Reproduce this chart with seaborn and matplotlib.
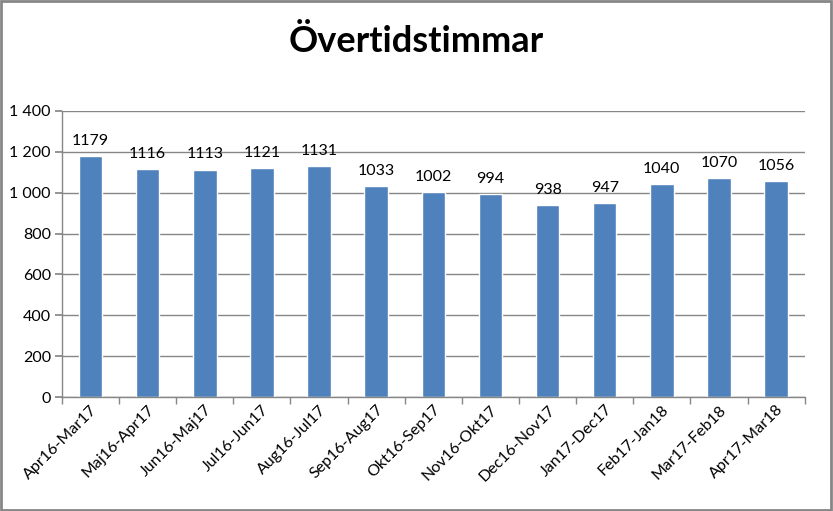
import matplotlib
matplotlib.use("Agg")
import matplotlib.pyplot as plt
import seaborn as sns
import pandas as pd
from matplotlib.ticker import FuncFormatter, FixedLocator
from matplotlib.patches import Rectangle

categories = ["Apr16-Mar17", "Maj16-Apr17", "Jun16-Maj17", "Jul16-Jun17", "Aug16-Jul17",
              "Sep16-Aug17", "Okt16-Sep17", "Nov16-Okt17", "Dec16-Nov17", "Jan17-Dec17",
              "Feb17-Jan18", "Mar17-Feb18", "Apr17-Mar18"]
values = [1179, 1116, 1113, 1121, 1131, 1033, 1002, 994, 938, 947, 1040, 1070, 1056]
title = "Övertidstimmar"

sns.set_theme(style="white")
plt.rcParams["font.family"] = ["Lato", "DejaVu Sans"]
plt.rcParams["text.color"] = "black"
plt.rcParams["xtick.color"] = "black"
plt.rcParams["ytick.color"] = "black"

df = pd.DataFrame({"period": categories, "timmar": values})

fig = plt.figure(figsize=(8.33, 5.11), dpi=100)
ax = fig.add_axes([0.0744, 0.223, 0.8916, 0.560])
sns.barplot(data=df, x="period", y="timmar", color="#4F81BD", saturation=1,
            width=0.41, ax=ax)
ax.set_ylim(0, 1400)
ax.set_xlim(-0.5, len(categories) - 0.5)
ax.set_yticks(range(0, 1401, 200))
ax.yaxis.set_major_formatter(FuncFormatter(lambda v, p: f"{int(v):,}".replace(",", " ")))
ax.grid(axis="y", color="#868686", linewidth=1)
ax.set_axisbelow(True)
for s in ["top", "right"]:
    ax.spines[s].set_visible(False)
for s in ["left", "bottom"]:
    ax.spines[s].set_color("#868686")
    ax.spines[s].set_linewidth(1)
ax.set_xlabel("")
ax.set_ylabel("")
ax.tick_params(axis="y", which="major", length=5, color="#868686", labelcolor="black",
               labelsize=11.5, pad=3, left=True)
ax.tick_params(axis="x", which="major", length=0, labelsize=11.5, labelcolor="black", pad=4)
ax.xaxis.set_minor_locator(FixedLocator([i - 0.5 for i in range(len(categories) + 1)]))
ax.tick_params(axis="x", which="minor", length=5, color="#868686", bottom=True)
plt.setp(ax.get_xticklabels(), rotation=45, ha="right", rotation_mode="anchor")
ax.bar_label(ax.containers[0], labels=[str(v) for v in values], padding=6, fontsize=11.5,
             color="black")
fig.text(0.5, 0.918, title, ha="center", va="center", fontsize=26, fontweight="bold",
         color="black")
fig.patches.append(Rectangle((0.001, 0.002), 0.997, 0.996, transform=fig.transFigure,
                             fill=False, edgecolor="#868686", linewidth=2))
fig.savefig("out.png", dpi=100, facecolor="white")
